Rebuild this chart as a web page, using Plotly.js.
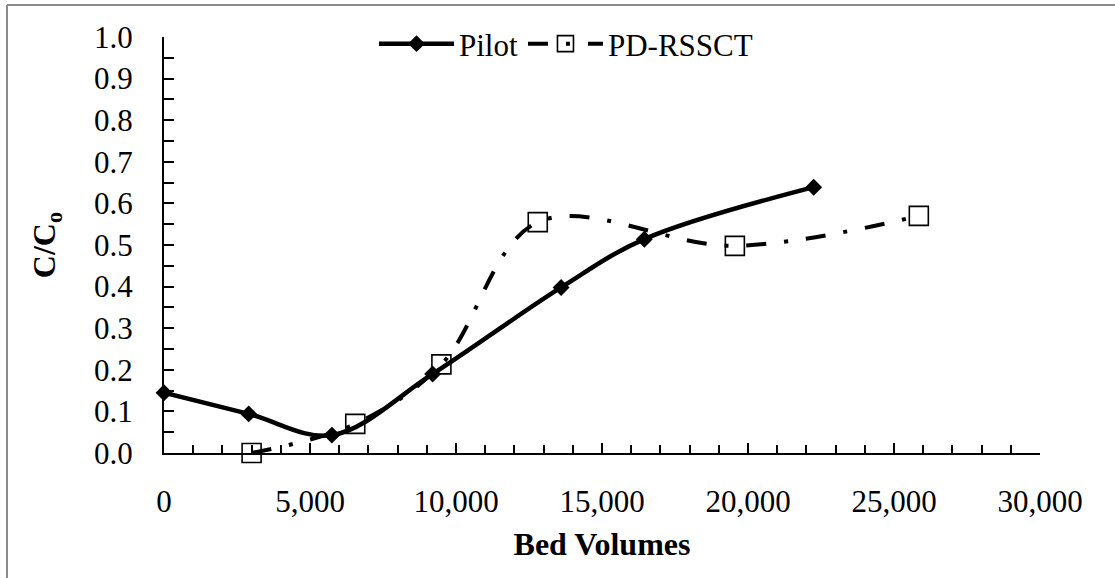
<!DOCTYPE html>
<html>
<head>
<meta charset="utf-8">
<script src="https://cdn.plot.ly/plotly-3.0.1.min.js"></script>
<style>html,body{margin:0;padding:0;background:#fff;}#chart{width:1115px;height:578px;}</style>
</head>
<body>
<div id="chart"></div>
<script>
// Data
const pilotBV = [0, 2900, 5750, 9200, 13600, 16450, 22250];
const pilotC  = [0.145, 0.094, 0.043, 0.190, 0.398, 0.514, 0.639];
const rssctBV = [3000, 6550, 9500, 12800, 19550, 25850];
const rssctC  = [0.0, 0.070, 0.213, 0.555, 0.498, 0.570];
const seriesNames = ["Pilot", "PD-RSSCT"];

const FONT = "Liberation Serif, DejaVu Serif, serif";
const FS = 31;
const M = {l: 164, r: 75, t: 37, b: 125};
const W = 1115, H = 578;
const pw = W - M.l - M.r, ph = H - M.t - M.b;
const px = v => (v - M.l) / pw;
const py = v => (H - M.b - v) / ph;

const traces = [
  {
    x: pilotBV, y: pilotC, name: seriesNames[0], type: "scatter", mode: "lines+markers",
    line: {color: "#000", width: 4.5, shape: "spline", smoothing: 1},
    marker: {symbol: "diamond", size: 13, color: "#000"},
    cliponaxis: false
  },
  {
    x: rssctBV, y: rssctC, name: seriesNames[1], type: "scatter", mode: "lines+markers",
    line: {color: "#000", width: 4, shape: "spline", smoothing: 1, dash: "20px,18px,4px,18px"},
    marker: {symbol: "square-open", size: 19, color: "#000", line: {width: 1.6, color: "#000"}},
    cliponaxis: false
  }
];

const layout = {
  width: W, height: H,
  margin: M,
  paper_bgcolor: "#fff", plot_bgcolor: "#fff",
  font: {family: FONT, size: FS, color: "#000"},
  showlegend: true,
  legend: {orientation: "h", x: px(566), xanchor: "center", y: py(44), yanchor: "middle",
           font: {family: FONT, size: FS, color: "#000"}, bgcolor: "rgba(0,0,0,0)", itemwidth: 75, tracegroupgap: 0},
  xaxis: {
    range: [0, 30000], dtick: 5000, tick0: 0, tickformat: ",d",
    showgrid: false, zeroline: false, showline: true, linecolor: "#000", linewidth: 2,
    ticks: "inside", ticklen: 10, tickwidth: 2, tickcolor: "#000",
    minor: {dtick: 1000, ticks: "inside", ticklen: 8, tickwidth: 2, tickcolor: "#000", showgrid: false},
    tickfont: {family: FONT, size: FS, color: "#000"},
    ticklabelstandoff: 20,
    title: {text: "<b>Bed Volumes</b>", font: {family: FONT, size: 32, color: "#000"}, standoff: 14},
    fixedrange: true
  },
  yaxis: {
    range: [0, 1], dtick: 0.1, tick0: 0, tickformat: ".1f",
    showgrid: false, zeroline: false, showline: true, linecolor: "#000", linewidth: 2,
    ticks: "inside", ticklen: 10, tickwidth: 2, tickcolor: "#000",
    minor: {dtick: 0.05, ticks: "inside", ticklen: 10, tickwidth: 2, tickcolor: "#000", showgrid: false},
    tickfont: {family: FONT, size: FS, color: "#000"},
    ticklabelstandoff: 23,
    title: {text: "<b>C/C<sub>o</sub></b>", font: {family: FONT, size: 32, color: "#000"}, standoff: 29},
    fixedrange: true
  },
  shapes: [
    {type: "line", xref: "paper", yref: "paper", x0: px(7), x1: px(W + 5), y0: py(5), y1: py(5),
     line: {color: "#8c8c8c", width: 2}},
    {type: "line", xref: "paper", yref: "paper", x0: px(7), x1: px(7), y0: py(5), y1: py(H + 5),
     line: {color: "#8c8c8c", width: 2}}
  ]
};

Plotly.newPlot("chart", traces, layout, {displayModeBar: false, staticPlot: true});
</script>
</body>
</html>
